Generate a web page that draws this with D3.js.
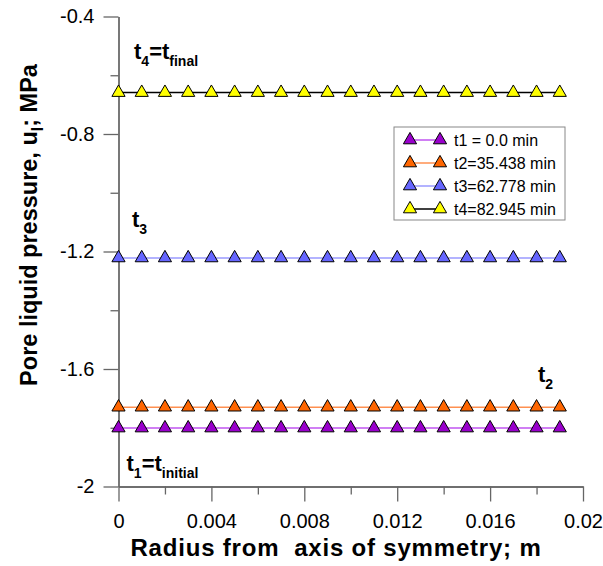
<!DOCTYPE html>
<html>
<head>
<meta charset="utf-8">
<script src="https://cdn.jsdelivr.net/npm/d3@7"></script>
<style>
  html, body { margin: 0; padding: 0; background: #fff; }
  svg { display: block; font-family: "Liberation Sans", Arial, sans-serif; }
</style>
</head>
<body>
<svg id="chart" width="603" height="566"></svg>
<script>
// Radial positions of the nodes (m)
const radius = [0, 0.001, 0.002, 0.003, 0.004, 0.005, 0.006, 0.007, 0.008, 0.009,
                0.010, 0.011, 0.012, 0.013, 0.014, 0.015, 0.016, 0.017, 0.018, 0.019];

// Pore liquid pressure at each node (MPa), one list per time step
const p_t1 = [-1.801, -1.801, -1.801, -1.801, -1.801, -1.801, -1.801, -1.801, -1.801, -1.801,
              -1.801, -1.801, -1.801, -1.801, -1.801, -1.801, -1.801, -1.801, -1.801, -1.801];
const p_t2 = [-1.730, -1.730, -1.730, -1.730, -1.730, -1.730, -1.730, -1.730, -1.730, -1.730,
              -1.730, -1.730, -1.730, -1.730, -1.730, -1.730, -1.730, -1.730, -1.730, -1.730];
const p_t3 = [-1.222, -1.222, -1.222, -1.222, -1.222, -1.222, -1.222, -1.222, -1.222, -1.222,
              -1.222, -1.222, -1.222, -1.222, -1.222, -1.222, -1.222, -1.222, -1.222, -1.222];
const p_t4 = [-0.659, -0.659, -0.659, -0.659, -0.659, -0.659, -0.659, -0.659, -0.659, -0.659,
              -0.659, -0.659, -0.659, -0.659, -0.659, -0.659, -0.659, -0.659, -0.659, -0.659];

const seriesLabels = ["t1 = 0.0 min", "t2=35.438 min", "t3=62.778 min", "t4=82.945 min"];

// Axis ticks
const xMajorTicks = [0, 0.004, 0.008, 0.012, 0.016, 0.02];
const xMajorLabels = ["0", "0.004", "0.008", "0.012", "0.016", "0.02"];
const xMinorTicks = [0.002, 0.006, 0.010, 0.014, 0.018];
const yMajorTicks = [-2, -1.6, -1.2, -0.8, -0.4];
const yMajorLabels = ["-2", "-1.6", "-1.2", "-0.8", "-0.4"];
const yMinorTicks = [-1.8, -1.4, -1.0, -0.6];

const series = [
  { label: seriesLabels[0], values: p_t1, fill: "#9900CC", line: "#C055F0" },
  { label: seriesLabels[1], values: p_t2, fill: "#FF6600", line: "#FF9050" },
  { label: seriesLabels[2], values: p_t3, fill: "#6666FF", line: "#9A9AFF" },
  { label: seriesLabels[3], values: p_t4, fill: "#FFFF00", line: "#000000" }
];

const svg = d3.select("#chart");
const axisColor = "#666";

const x = d3.scaleLinear().domain([0, 0.02]).range([118.5, 583]);
const y = d3.scaleLinear().domain([-2, -0.4]).range([486.5, 16.5]);

function styleAxis(g) {
  g.selectAll("path.domain").attr("stroke", axisColor).attr("stroke-width", 1.3);
  g.selectAll(".tick line").attr("stroke", axisColor).attr("stroke-width", 1.3);
  g.selectAll(".tick text").attr("fill", "#000").attr("font-size", 20)
    .attr("font-family", "'Liberation Sans', Arial, sans-serif");
}

// X axis: major ticks with labels, minor ticks without
svg.append("g").attr("transform", `translate(0,${y(-2)})`)
  .call(d3.axisBottom(x).tickValues(xMinorTicks).tickSize(8).tickSizeOuter(0).tickFormat(""))
  .call(styleAxis);
svg.append("g").attr("transform", `translate(0,${y(-2)})`)
  .call(d3.axisBottom(x).tickValues(xMajorTicks).tickSize(15).tickSizeOuter(0)
        .tickPadding(12).tickFormat((d, i) => xMajorLabels[i]))
  .call(styleAxis);

// Y axis
svg.append("g").attr("transform", `translate(${x(0)},0)`)
  .call(d3.axisLeft(y).tickValues(yMinorTicks).tickSize(8).tickSizeOuter(0).tickFormat(""))
  .call(styleAxis);
svg.append("g").attr("transform", `translate(${x(0)},0)`)
  .call(d3.axisLeft(y).tickValues(yMajorTicks).tickSize(15).tickSizeOuter(0)
        .tickPadding(9).tickFormat((d, i) => yMajorLabels[i]))
  .call(styleAxis);

// Axis titles
svg.append("text")
  .attr("x", 336).attr("y", 556)
  .attr("text-anchor", "middle")
  .attr("font-size", 24).attr("font-weight", "bold")
  .attr("letter-spacing", 0.8)
  .style("white-space", "pre")
  .text("Radius from  axis of symmetry; m");

const yTitle = svg.append("text")
  .attr("transform", "translate(37,225) rotate(-90)")
  .attr("text-anchor", "middle")
  .attr("font-size", 23.5).attr("font-weight", "bold");
yTitle.append("tspan").text("Pore liquid pressure, u");
yTitle.append("tspan").attr("font-size", 16).attr("dy", 6).text("l");
yTitle.append("tspan").attr("dy", -6).text("; MPa");

// Curves and triangle markers
const line = d3.line().x((d, i) => x(radius[i])).y(d => y(d));
const tri = d3.symbol().type(d3.symbolTriangle).size(75);

series.forEach(s => {
  svg.append("path")
    .attr("d", line(s.values))
    .attr("fill", "none")
    .attr("stroke", s.line)
    .attr("stroke-width", 1.5);
  svg.append("g").selectAll("path")
    .data(s.values)
    .join("path")
    .attr("d", tri)
    .attr("transform", (d, i) => `translate(${x(radius[i])},${y(d)})`)
    .attr("fill", s.fill)
    .attr("stroke", "#000")
    .attr("stroke-width", 1);
});

// Time-step annotations with subscripts
function annotate(px, py, parts) {
  const t = svg.append("text").attr("x", px).attr("y", py)
    .attr("font-size", 22).attr("font-weight", "bold");
  let shift = 0;
  parts.forEach(([txt, sub]) => {
    const dy = sub ? 7 - shift : -shift;
    shift = sub ? 7 : 0;
    t.append("tspan").attr("dy", dy).attr("font-size", sub ? 14 : 22).text(txt);
  });
}
annotate(134, 58.5, [["t", false], ["4", true], ["=t", false], ["final", true]]);
annotate(132, 227, [["t", false], ["3", true]]);
annotate(538, 381.5, [["t", false], ["2", true]]);
annotate(126.5, 471, [["t", false], ["1", true], ["=t", false], ["initial", true]]);

// Legend
const legend = svg.append("g");
legend.append("rect")
  .attr("x", 394).attr("y", 127).attr("width", 171).attr("height", 93)
  .attr("fill", "#fff").attr("stroke", "#888").attr("stroke-width", 1);
series.forEach((s, i) => {
  const ly = 140 + i * 23;
  legend.append("line")
    .attr("x1", 410).attr("x2", 440).attr("y1", ly).attr("y2", ly)
    .attr("stroke", s.line).attr("stroke-width", 1.5);
  [410, 440].forEach(lx => {
    legend.append("path").attr("d", tri)
      .attr("transform", `translate(${lx},${ly})`)
      .attr("fill", s.fill).attr("stroke", "#000").attr("stroke-width", 1);
  });
  legend.append("text")
    .attr("x", 454).attr("y", ly + 6)
    .attr("font-size", 16)
    .text(s.label);
});
</script>
</body>
</html>
